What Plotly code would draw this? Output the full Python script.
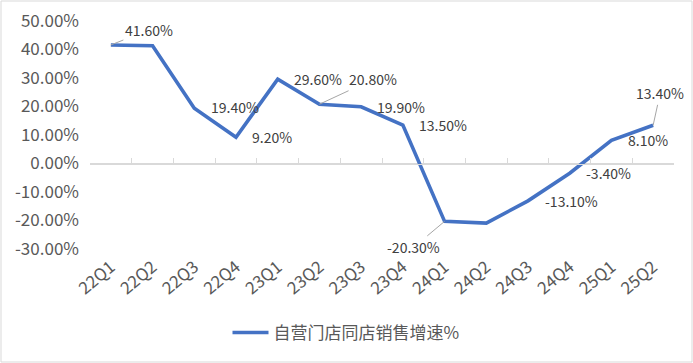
import plotly.graph_objects as go

quarters = ["22Q1", "22Q2", "22Q3", "22Q4", "23Q1", "23Q2", "23Q3", "23Q4",
            "24Q1", "24Q2", "24Q3", "24Q4", "25Q1", "25Q2"]
growth = [41.6, 41.3, 19.4, 9.2, 29.6, 20.8, 19.9, 13.5,
          -20.3, -20.9, -13.1, -3.4, 8.1, 13.4]
series_name = "自营门店同店销售增速%"

y_tick_vals = [50, 40, 30, 20, 10, 0, -10, -20, -30]
y_tick_text = ["50.00%", "40.00%", "30.00%", "20.00%", "10.00%", "0.00%",
               "-10.00%", "-20.00%", "-30.00%"]

# which points carry a data label (index), and label placement (pixel offsets, leader line)
label_idx = [0, 2, 3, 4, 5, 6, 7, 8, 10, 11, 12, 13]
label_dx = [38, 41, 36, 40, 54, 40, 40, -31, 43, 39, 37, 7]
label_dy = [-15, -1, 0, 0, -25, 0, 0, 26, 0, 0, 0, -32]
label_leader = [True, False, False, False, True, False, False, True, False, False, False, True]

FONT = "Noto Sans CJK SC, Noto Sans, sans-serif"
TXT = "#595959"
LBL = "#404040"
LINE = "#4472C4"

W, H = 693, 363
ML, MR, MT, MB = 90, 19, 21, 114

fig = go.Figure()
fig.add_trace(go.Scatter(
    x=quarters, y=growth, mode="lines", name=series_name,
    line=dict(color=LINE, width=3.6), hoverinfo="x+y",
))
# invisible helper trace on the overlay axis that carries the category labels
fig.add_trace(go.Scatter(
    x=quarters, y=growth, mode="lines", xaxis="x2", yaxis="y",
    line=dict(width=0, color="rgba(0,0,0,0)"), showlegend=False, hoverinfo="skip",
))

annotations = []
for i, dx, dy, leader in zip(label_idx, label_dx, label_dy, label_leader):
    v = growth[i]
    txt = f"{v:.2f}%"
    base = dict(x=quarters[i], y=v, xref="x", yref="y", text=txt,
                font=dict(family=FONT, size=14, color=LBL))
    if leader:
        base.update(showarrow=True, ax=dx, ay=dy, axref="pixel", ayref="pixel",
                    arrowhead=0, arrowwidth=1, arrowcolor="#a6a6a6", standoff=0)
    else:
        base.update(showarrow=False, xshift=dx, yshift=-dy,
                    xanchor="center", yanchor="middle")
    annotations.append(base)

zero_pos = (0 - (-30)) / (50 - (-30))

fig.update_layout(
    width=W, height=H,
    margin=dict(l=ML, r=MR, t=MT, b=MB, autoexpand=False),
    paper_bgcolor="white", plot_bgcolor="white",
    font=dict(family=FONT, color=TXT),
    xaxis=dict(
        type="category", range=[-0.5, len(quarters) - 0.5],
        anchor="free", position=zero_pos,
        showline=True, linecolor="#d9d9d9", linewidth=1,
        ticks="inside", ticklen=6, tickcolor="#d9d9d9", tickson="boundaries",
        showticklabels=False, showgrid=False, zeroline=False,
    ),
    xaxis2=dict(
        type="category", overlaying="x", anchor="y", side="bottom",
        range=[-0.5, len(quarters) - 0.5],
        showline=False, showgrid=False, zeroline=False, ticks="",
        tickangle=-40, tickfont=dict(family=FONT, size=17, color=TXT),
        ticklabelstandoff=4,
    ),
    yaxis=dict(
        range=[-30, 50], tickvals=y_tick_vals, ticktext=y_tick_text,
        showgrid=False, zeroline=True, zerolinecolor="#d9d9d9", zerolinewidth=1,
        showline=False, ticks="",
        tickfont=dict(family=FONT, size=17, color=TXT), ticklabelstandoff=10,
    ),
    showlegend=True,
    legend=dict(
        orientation="h", x=(346 - ML) / (W - ML - MR), xanchor="center",
        y=-(333 - (H - MB)) / (H - MT - MB), yanchor="middle",
        font=dict(family=FONT, size=17, color=TXT),
        itemwidth=36,
    ),
    annotations=annotations,
    shapes=[dict(type="rect", xref="paper", yref="paper",
                 x0=-(ML - 1) / (W - ML - MR), x1=1 + (MR - 1) / (W - ML - MR),
                 y0=-(MB - 1) / (H - MT - MB), y1=1 + (MT - 1) / (H - MT - MB),
                 line=dict(color="#d9d9d9", width=1), layer="below")],
)

fig.write_html(
    "out.html",
    config={"displayModeBar": False},
    post_script="document.body.style.margin='0';document.body.style.overflow='hidden';",
)
